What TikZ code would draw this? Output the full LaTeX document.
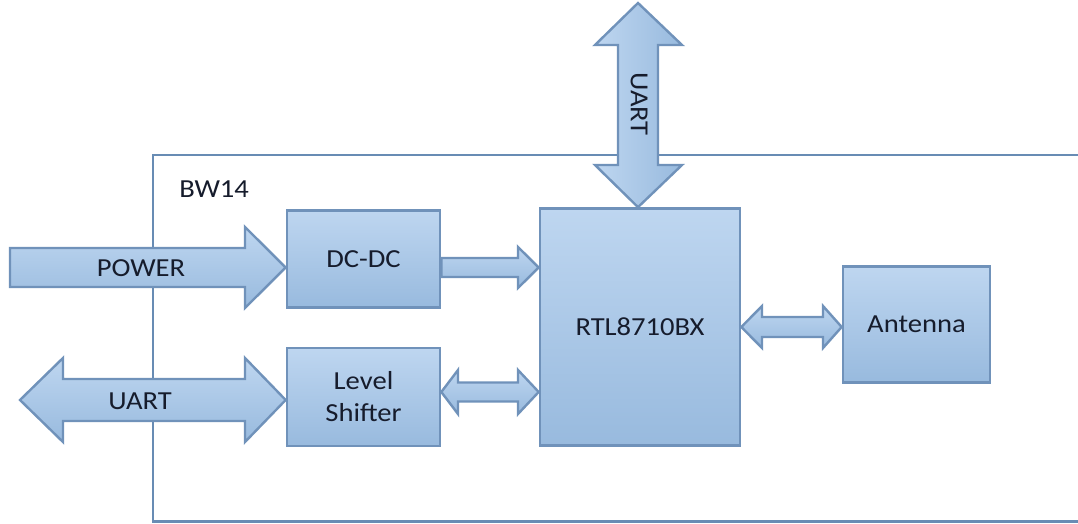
\documentclass[tikz,border=0pt]{standalone}
\usepackage{fontspec}
\setmainfont{Carlito}[FakeStretch=1.1]
\usetikzlibrary{calc}
\definecolor{edgeblue}{RGB}{112,146,186}
\definecolor{frameblue}{RGB}{104,140,180}
\definecolor{filltop}{RGB}{190,214,240}
\definecolor{fillbot}{RGB}{152,186,222}
\definecolor{txt}{RGB}{22,28,44}
\tikzset{
  blk/.style={draw=edgeblue, line width=2pt, top color=filltop, bottom color=fillbot,
    inner sep=0pt, align=center, text=txt, font=\fontsize{19.5}{24}\selectfont},
  barrow/.style={draw=edgeblue, line width=1.8pt, line join=miter, top color=filltop, bottom color=fillbot},
  varrow/.style={draw=edgeblue, line width=1.8pt, line join=miter, left color=filltop, right color=fillbot},
  lbl/.style={text=txt, inner sep=0pt, font=\fontsize{19.5}{24}\selectfont},
  frame/.style={draw=frameblue, line width=2pt}
}
\begin{document}
\begin{tikzpicture}[x=0.75pt,y=-0.75pt]
\useasboundingbox (0,0) rectangle (1078,524);
\fill[white] (0,0) rectangle (1078,524);
% outer BW14 frame (right side beyond the picture)
\coordinate (ftr) at (1090,155);
\coordinate (ftl) at (153,155);
\coordinate (fbl) at (153,521.5);
\coordinate (fbr) at (1090,521.5);
\draw[frame] (ftr) -- (ftl) -- (fbl) -- (fbr);
\node[lbl, anchor=west] (bw) at (179,189) {BW14};

% blocks
\node[blk, minimum width=114.75pt, minimum height=73pt] (dcdc) at (363.5,259) {DC-DC};
\node[blk, minimum width=114.75pt, minimum height=73.5pt] (ls) at (363.5,397) {Level\\Shifter};
\node[blk, minimum width=150pt, minimum height=177.75pt] (rtl) at (640,327) {RTL8710BX};
\node[blk, minimum width=110.25pt, minimum height=87pt] (ant) at (916.5,324.5) {Antenna};

% POWER arrow into DC-DC
\coordinate (pwrtip) at (dcdc.west |- 0,267.5);
\draw[barrow] (10,248) -- (245,248) -- (245,227) -- (pwrtip) -- (245,308) -- (245,287) -- (10,287) -- cycle;
\node[lbl] (pwr) at (141,268) {POWER};

% UART double arrow to Level Shifter
\coordinate (uarttip) at (ls.west |- 0,400);
\draw[barrow] (20,400) -- (63,358) -- (63,379) -- (245,379) -- (245,358) -- (uarttip)
  -- (245,442) -- (245,421) -- (63,421) -- (63,442) -- cycle;
\node[lbl] (uartl) at (140,401) {UART};

% vertical UART double arrow to RTL
\coordinate (vtip) at (638,3);
\coordinate (vbot) at (rtl.north -| 638,0);
\draw[varrow] (vtip) -- (682,45) -- (658,45) -- (658,165) -- (682,165) -- (vbot)
  -- (595,165) -- (618,165) -- (618,45) -- (595,45) -- cycle;
\node[lbl, rotate=-90] (uartv) at (639,104) {UART};

% DC-DC -> RTL
\coordinate (d1) at (dcdc.east |- 0,267.5);
\coordinate (d2) at (rtl.west |- 0,267.5);
\draw[barrow] (d1) ++(0,-9.5) -- (518,258) -- (518,247) -- (d2) -- (518,288) -- (518,277) -- ($(d1)+(0,9.5)$) -- cycle;

% Level Shifter <-> RTL
\coordinate (l1) at (ls.east |- 0,392);
\coordinate (l2) at (rtl.west |- 0,392);
\draw[barrow] (l1) -- (458,370) -- (458,382.5) -- (518,382.5) -- (518,370) -- (l2)
  -- (518,414) -- (518,401.5) -- (458,401.5) -- (458,414) -- cycle;

% RTL <-> Antenna
\coordinate (a1) at (rtl.east |- 0,327);
\coordinate (a2) at (ant.west |- 0,327);
\draw[barrow] (a1) -- (762,306) -- (762,317) -- (823,317) -- (823,306) -- (a2)
  -- (823,348) -- (823,337) -- (762,337) -- (762,348) -- cycle;
\end{tikzpicture}
\end{document}
